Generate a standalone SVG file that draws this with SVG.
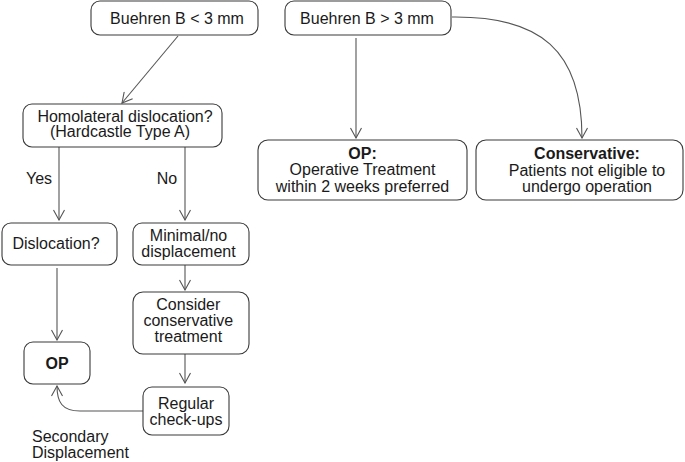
<svg xmlns="http://www.w3.org/2000/svg" width="685" height="462" viewBox="0 0 685 462">
<defs>
<style>
.box{fill:#fff;stroke:#3a3a3a;stroke-width:1.1}
text{font-family:"Liberation Sans",Arial,sans-serif;font-size:16px;fill:#1a1a1a}
.c{text-anchor:middle}
.b{font-weight:bold}
.ln{fill:none;stroke:#555;stroke-width:1.1}
</style>
<marker id="ah" viewBox="0 0 12 12" markerWidth="12" markerHeight="12" refX="11" refY="6" orient="auto" markerUnits="userSpaceOnUse">
<path d="M1,0.5 L11,6 L1,11.5" fill="none" stroke="#555" stroke-width="1.1"/>
</marker>
</defs>
<rect width="685" height="462" fill="#fff"/>
<g id="connectors">
<path class="ln" d="M178,36 L122,103" marker-end="url(#ah)"/>
<path class="ln" d="M356,38 L356,138" marker-end="url(#ah)"/>
<path class="ln" d="M452,17 C540,16 582,50 582,138" marker-end="url(#ah)"/>
<path class="ln" d="M59,147 L59,220" marker-end="url(#ah)"/>
<path class="ln" d="M185,147 L185,220" marker-end="url(#ah)"/>
<path class="ln" d="M185,265 L185,290" marker-end="url(#ah)"/>
<path class="ln" d="M185,354 L185,383" marker-end="url(#ah)"/>
<path class="ln" d="M57,268 L57,340" marker-end="url(#ah)"/>
<path class="ln" d="M143,411 L80,411 C62,411 57,402 57,386" marker-end="url(#ah)"/>
<text x="39" y="183.5" class="c">Yes</text>
<text x="167" y="183.5" class="c">No</text>
<text x="32" y="441.5">Secondary</text>
<text x="32" y="457.5">Displacement</text>
</g>
<g id="n_lt3">
<rect class="box" x="91" y="1" width="167" height="34" rx="9"/>
<text x="177" y="23.5" class="c">Buehren B &lt; 3 mm</text>
</g>
<g id="n_gt3">
<rect class="box" x="285" y="1" width="166" height="34" rx="9"/>
<text x="367" y="23.5" class="c">Buehren B &gt; 3 mm</text>
</g>
<g id="n_homo">
<rect class="box" x="23" y="104" width="199" height="43" rx="9"/>
<text x="125" y="121.5" class="c">Homolateral dislocation?</text>
<text x="120" y="137" class="c">(Hardcastle Type A)</text>
</g>
<g id="n_opright">
<rect class="box" x="258" y="140" width="209" height="60" rx="10"/>
<text x="362.5" y="158.5" class="c b">OP:</text>
<text x="362.5" y="175" class="c">Operative Treatment</text>
<text x="362.5" y="191.5" class="c">within 2 weeks preferred</text>
</g>
<g id="n_cons">
<rect class="box" x="476" y="140" width="207" height="60" rx="10"/>
<text x="587" y="159" class="c b">Conservative:</text>
<text x="587" y="175.5" class="c">Patients not eligible to</text>
<text x="587" y="191.5" class="c">undergo operation</text>
</g>
<g id="n_disl">
<rect class="box" x="2" y="223" width="115" height="42" rx="9"/>
<text x="56" y="248.5" class="c">Dislocation?</text>
</g>
<g id="n_min">
<rect class="box" x="133" y="223" width="116" height="42" rx="9"/>
<text x="188.5" y="241" class="c">Minimal/no</text>
<text x="188.5" y="257" class="c">displacement</text>
</g>
<g id="n_consider">
<rect class="box" x="133" y="292" width="116" height="62" rx="10"/>
<text x="188.3" y="309.5" class="c">Consider</text>
<text x="188.3" y="326" class="c">conservative</text>
<text x="188.3" y="342" class="c">treatment</text>
</g>
<g id="n_op">
<rect class="box" x="24" y="342" width="66" height="42" rx="9"/>
<text x="57" y="369" class="c b">OP</text>
</g>
<g id="n_reg">
<rect class="box" x="143" y="387" width="86" height="48" rx="9"/>
<text x="186" y="408.5" class="c">Regular</text>
<text x="186" y="424.5" class="c">check-ups</text>
</g>
</svg>
